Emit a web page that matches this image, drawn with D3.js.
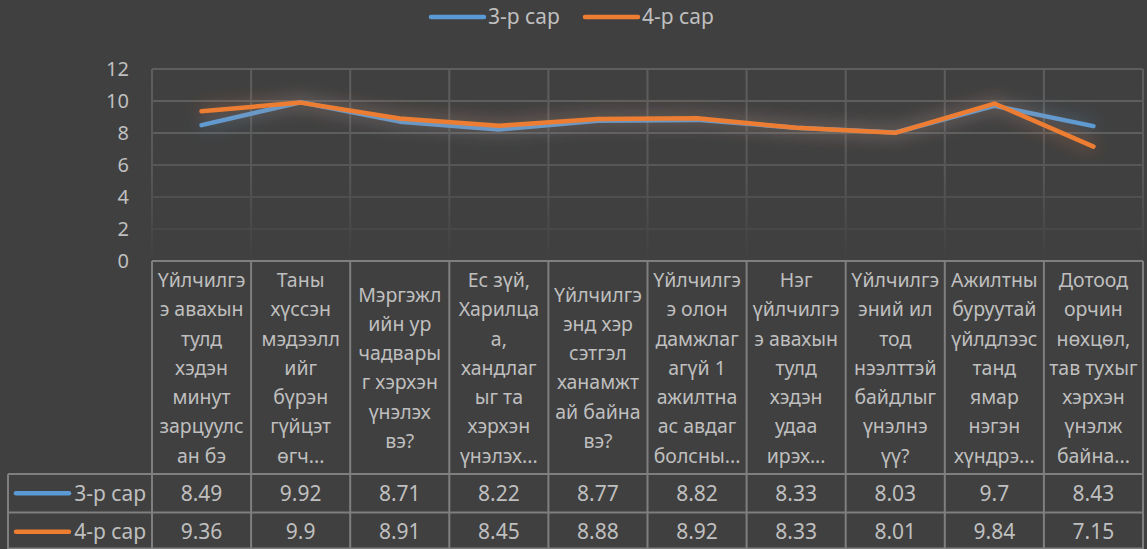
<!DOCTYPE html>
<html>
<head>
<meta charset="utf-8">
<script src="https://cdn.jsdelivr.net/npm/d3@7"></script>
<style>
  html, body { margin: 0; padding: 0; background: #404040; }
  svg { display: block; }
  text { font-family: "Noto Sans", "Open Sans", sans-serif; fill: #bfbfbf; }
</style>
</head>
<body>
<div id="chart"></div>
<script>
// category labels, already broken into lines as in the table header
const categories = [
  ['Үйлчилгэ', 'э авахын', 'тулд', 'хэдэн', 'минут', 'зарцуулс', 'ан бэ'],
  ['Таны', 'хүссэн', 'мэдээлл', 'ийг', 'бүрэн', 'гүйцэт', 'өгч...'],
  ['Мэргэжл', 'ийн ур', 'чадвары', 'г хэрхэн', 'үнэлэх', 'вэ?'],
  ['Ес зүй,', 'Харилца', 'а,', 'хандлаг', 'ыг та', 'хэрхэн', 'үнэлэх...'],
  ['Үйлчилгэ', 'энд хэр', 'сэтгэл', 'ханамжт', 'ай байна', 'вэ?'],
  ['Үйлчилгэ', 'э олон', 'дамжлаг', 'агүй 1', 'ажилтна', 'ас авдаг', 'болсны...'],
  ['Нэг', 'үйлчилгэ', 'э авахын', 'тулд', 'хэдэн', 'удаа', 'ирэх...'],
  ['Үйлчилгэ', 'эний ил', 'тод', 'нээлттэй', 'байдлыг', 'үнэлнэ', 'үү?'],
  ['Ажилтны', 'буруутай', 'үйлдлээс', 'танд', 'ямар', 'нэгэн', 'хүндрэ...'],
  ['Дотоод', 'орчин', 'нөхцөл,', 'тав тухыг', 'хэрхэн', 'үнэлж', 'байна...']
];
const march = [8.49, 9.92, 8.71, 8.22, 8.77, 8.82, 8.33, 8.03, 9.7, 8.43];
const april = [9.36, 9.9, 8.91, 8.45, 8.88, 8.92, 8.33, 8.01, 9.84, 7.15];
const seriesNames = ['3-р сар', '4-р сар'];
const seriesColors = ['#5b9bd5', '#ed7d31'];
const yTicks = [0, 2, 4, 6, 8, 10, 12];

const W = 1147, H = 549;
const plot = { left: 152, right: 1143, top: 69, bottom: 261 };
const table = { keyLeft: 8, headBottom: 474, rowH: 38.5 };
const headSize = 19.5;
const numSize = 21;

const svg = d3.select('#chart').append('svg')
  .attr('width', W)
  .attr('height', H);

const defs = svg.append('defs');

// vertical gridlines fade out toward the bottom of the plot
const hGrad = defs.append('linearGradient')
  .attr('id', 'gridFade')
  .attr('gradientUnits', 'userSpaceOnUse')
  .attr('x1', 0).attr('x2', 0)
  .attr('y1', plot.top).attr('y2', plot.bottom);
hGrad.append('stop').attr('offset', 0).attr('stop-color', '#5e5e5e');
hGrad.append('stop').attr('offset', 0.55).attr('stop-color', '#575757');
hGrad.append('stop').attr('offset', 1).attr('stop-color', '#404040');

// soft glow under the lines
const glow = defs.append('filter')
  .attr('id', 'glow')
  .attr('x', '-10%').attr('y', '-80%')
  .attr('width', '120%').attr('height', '260%');
glow.append('feGaussianBlur')
  .attr('in', 'SourceGraphic')
  .attr('stdDeviation', 9)
  .attr('result', 'blur');
glow.append('feComponentTransfer')
  .attr('in', 'blur')
  .attr('result', 'faded')
  .append('feFuncA').attr('type', 'linear').attr('slope', 0.6);
const merge = glow.append('feMerge');
merge.append('feMergeNode').attr('in', 'faded');
merge.append('feMergeNode').attr('in', 'SourceGraphic');

// scales
const x = d3.scaleBand()
  .domain(d3.range(categories.length))
  .range([plot.left, plot.right])
  .paddingInner(0)
  .paddingOuter(0);

const y = d3.scaleLinear()
  .domain([0, 12])
  .range([plot.bottom, plot.top]);

// horizontal gridlines
svg.append('g')
  .selectAll('line')
  .data(yTicks.filter(d => d > 0))
  .enter().append('line')
  .attr('x1', plot.left)
  .attr('x2', plot.right)
  .attr('y1', d => y(d))
  .attr('y2', d => y(d))
  .attr('stroke', d => d3.interpolateRgb('#404040', '#5e5e5e')(Math.min(1, d / 8)))
  .attr('stroke-width', 2);

// vertical gridlines
svg.append('g')
  .selectAll('line')
  .data(d3.range(categories.length + 1))
  .enter().append('line')
  .attr('x1', i => i < categories.length ? x(i) : plot.right)
  .attr('x2', i => i < categories.length ? x(i) : plot.right)
  .attr('y1', plot.top)
  .attr('y2', plot.bottom)
  .attr('stroke', 'url(#gridFade)')
  .attr('stroke-width', 2);

// y axis labels
const yAxis = svg.append('g')
  .attr('transform', `translate(${plot.left},0)`)
  .call(d3.axisLeft(y).tickValues(yTicks).tickSize(0).tickPadding(23));
yAxis.select('.domain').remove();
yAxis.selectAll('text')
  .attr('fill', '#bfbfbf')
  .style('font-size', '20px')
  .style('font-family', '"Noto Sans", sans-serif');

// lines
const line = d3.line()
  .x((d, i) => x(i) + x.bandwidth() / 2)
  .y(d => y(d));

[march, april].forEach((values, s) => {
  svg.append('path')
    .datum(values)
    .attr('d', line)
    .attr('fill', 'none')
    .attr('stroke', seriesColors[s])
    .attr('stroke-width', 4.5)
    .attr('stroke-linecap', 'round')
    .attr('stroke-linejoin', 'round')
    .attr('filter', 'url(#glow)');
});

// data table
const tableG = svg.append('g');
const borderColor = '#7f7f7f';
const rowTops = [table.headBottom, table.headBottom + table.rowH];

// header cells, text centred vertically in the cell
categories.forEach((lines, i) => {
  const cx = x(i) + x.bandwidth() / 2;
  const pitch = 29.3;
  const midY = (plot.bottom + table.headBottom) / 2 + 0.5;
  const startY = midY - (lines.length - 1) * pitch / 2;
  const t = tableG.append('text')
    .attr('text-anchor', 'middle')
    .style('font-size', headSize + 'px');
  lines.forEach((ln, k) => {
    t.append('tspan')
      .attr('x', cx)
      .attr('y', startY + k * pitch)
      .attr('dy', '0.35em')
      .text(ln);
  });
});

// value rows
[march, april].forEach((values, s) => {
  const cy = rowTops[s] + table.rowH / 2;
  tableG.selectAll(null)
    .data(values)
    .enter().append('text')
    .attr('x', (d, i) => x(i) + x.bandwidth() / 2)
    .attr('y', cy)
    .attr('dy', '0.35em')
    .attr('text-anchor', 'middle')
    .style('font-size', numSize + 'px')
    .text(d => d);

  // legend key in row header
  tableG.append('line')
    .attr('x1', 16).attr('x2', 69)
    .attr('y1', cy).attr('y2', cy)
    .attr('stroke', seriesColors[s])
    .attr('stroke-width', 4.5)
    .attr('stroke-linecap', 'round');
  tableG.append('text')
    .attr('x', 146)
    .attr('y', cy)
    .attr('dy', '0.35em')
    .attr('text-anchor', 'end')
    .style('font-size', numSize + 'px')
    .text(seriesNames[s]);
});

// table borders
const hLines = [
  { x1: plot.left, x2: plot.right, y: plot.bottom },
  { x1: table.keyLeft, x2: plot.right, y: table.headBottom },
  { x1: table.keyLeft, x2: plot.right, y: table.headBottom + table.rowH },
  { x1: table.keyLeft, x2: plot.right, y: H - 0.5 }
];
tableG.selectAll('.hb')
  .data(hLines)
  .enter().append('line')
  .attr('class', 'hb')
  .attr('x1', d => d.x1).attr('x2', d => d.x2)
  .attr('y1', d => d.y).attr('y2', d => d.y)
  .attr('stroke', borderColor)
  .attr('stroke-width', 2);

tableG.selectAll('.vb')
  .data(d3.range(categories.length + 1))
  .enter().append('line')
  .attr('class', 'vb')
  .attr('x1', i => i < categories.length ? x(i) : plot.right)
  .attr('x2', i => i < categories.length ? x(i) : plot.right)
  .attr('y1', plot.bottom)
  .attr('y2', H)
  .attr('stroke', borderColor)
  .attr('stroke-width', 2);

tableG.append('line')
  .attr('x1', table.keyLeft).attr('x2', table.keyLeft)
  .attr('y1', table.headBottom).attr('y2', H)
  .attr('stroke', borderColor)
  .attr('stroke-width', 2);

// top legend
const legend = svg.append('g');
const legendItems = [{ x: 431, name: seriesNames[0], color: seriesColors[0] },
                     { x: 585, name: seriesNames[1], color: seriesColors[1] }];
legendItems.forEach(d => {
  legend.append('line')
    .attr('x1', d.x).attr('x2', d.x + 53)
    .attr('y1', 17).attr('y2', 17)
    .attr('stroke', d.color)
    .attr('stroke-width', 4.5)
    .attr('stroke-linecap', 'round');
  legend.append('text')
    .attr('x', d.x + 57)
    .attr('y', 17)
    .attr('dy', '0.35em')
    .style('font-size', numSize + 'px')
    .text(d.name);
});
</script>
</body>
</html>
